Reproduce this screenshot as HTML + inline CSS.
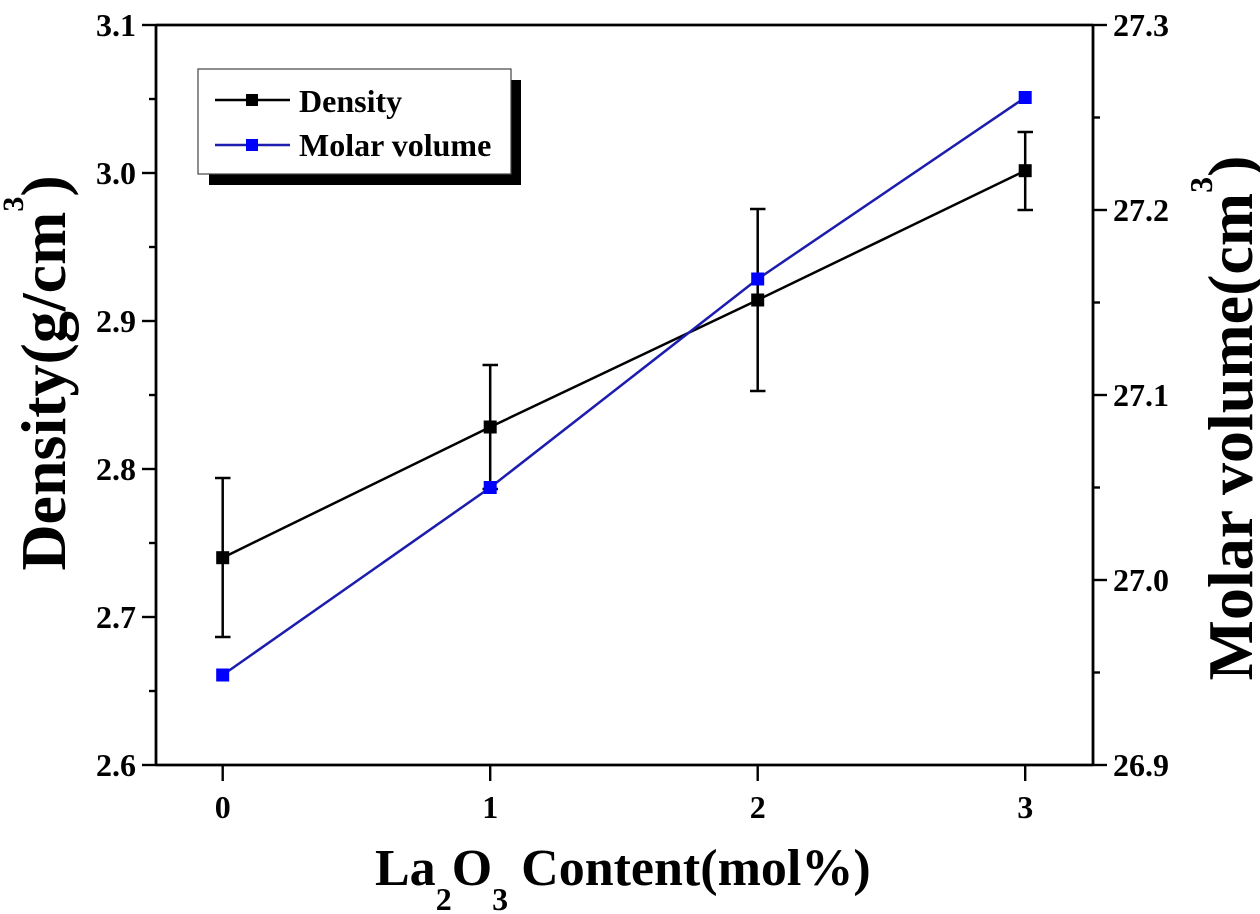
<!DOCTYPE html>
<html>
<head>
<meta charset="utf-8">
<style>
  html, body { margin:0; padding:0; background:#ffffff; }
  svg { display:block; }
  text { font-family: "Liberation Serif", "Times New Roman", serif; font-weight: bold; fill:#000; }
</style>
</head>
<body>
<svg width="1260" height="914" viewBox="0 0 1260 914" xmlns="http://www.w3.org/2000/svg">
  <rect x="0" y="0" width="1260" height="914" fill="#ffffff"/>

  <!-- Axes frame -->
  <g stroke="#000" stroke-width="2.8" fill="none">
    <line x1="156" y1="25" x2="1093" y2="25"/>
    <line x1="156" y1="765" x2="1093" y2="765"/>
    <line x1="156" y1="24" x2="156" y2="766"/>
    <line x1="1093" y1="24" x2="1093" y2="766"/>
  </g>

  <!-- Left ticks -->
  <g stroke="#000" stroke-width="2.4">
    <line x1="142" y1="25" x2="156" y2="25"/>
    <line x1="142" y1="173" x2="156" y2="173"/>
    <line x1="142" y1="321" x2="156" y2="321"/>
    <line x1="142" y1="469" x2="156" y2="469"/>
    <line x1="142" y1="617" x2="156" y2="617"/>
    <line x1="142" y1="765" x2="156" y2="765"/>
    <line x1="149" y1="99" x2="156" y2="99"/>
    <line x1="149" y1="247" x2="156" y2="247"/>
    <line x1="149" y1="395" x2="156" y2="395"/>
    <line x1="149" y1="543" x2="156" y2="543"/>
    <line x1="149" y1="691" x2="156" y2="691"/>
  </g>

  <!-- Right ticks -->
  <g stroke="#000" stroke-width="2.4">
    <line x1="1093" y1="25" x2="1107" y2="25"/>
    <line x1="1093" y1="210" x2="1107" y2="210"/>
    <line x1="1093" y1="395" x2="1107" y2="395"/>
    <line x1="1093" y1="580" x2="1107" y2="580"/>
    <line x1="1093" y1="765" x2="1107" y2="765"/>
    <line x1="1093" y1="117.5" x2="1100" y2="117.5"/>
    <line x1="1093" y1="302.5" x2="1100" y2="302.5"/>
    <line x1="1093" y1="487.5" x2="1100" y2="487.5"/>
    <line x1="1093" y1="672.5" x2="1100" y2="672.5"/>
  </g>

  <!-- Bottom ticks -->
  <g stroke="#000" stroke-width="2.4">
    <line x1="222.7" y1="765" x2="222.7" y2="781"/>
    <line x1="490.2" y1="765" x2="490.2" y2="781"/>
    <line x1="757.7" y1="765" x2="757.7" y2="781"/>
    <line x1="1025.2" y1="765" x2="1025.2" y2="781"/>
  </g>

  <!-- Left tick labels -->
  <g font-size="32" text-anchor="end">
    <text x="136" y="36">3.1</text>
    <text x="136" y="184">3.0</text>
    <text x="136" y="332">2.9</text>
    <text x="136" y="480">2.8</text>
    <text x="136" y="628">2.7</text>
    <text x="136" y="776">2.6</text>
  </g>

  <!-- Right tick labels -->
  <g font-size="32" text-anchor="start">
    <text x="1113" y="36">27.3</text>
    <text x="1113" y="221">27.2</text>
    <text x="1113" y="406">27.1</text>
    <text x="1113" y="591">27.0</text>
    <text x="1113" y="776">26.9</text>
  </g>

  <!-- Bottom tick labels -->
  <g font-size="32" text-anchor="middle">
    <text x="222.7" y="818">0</text>
    <text x="490.2" y="818">1</text>
    <text x="757.7" y="818">2</text>
    <text x="1025.2" y="818">3</text>
  </g>

  <!-- Axis titles -->
  <text x="375" y="885" font-size="52">La<tspan font-size="32" dy="25">2</tspan><tspan dy="-25">O</tspan><tspan font-size="32" dy="25">3</tspan><tspan dy="-25"> Content(mol%)</tspan></text>

  <text transform="translate(65,373) rotate(-90)" text-anchor="middle" font-size="64">Density(g/cm<tspan font-size="30" dy="-42">3</tspan><tspan dy="42">)</tspan></text>

  <text transform="translate(1252,418) rotate(-90)" text-anchor="middle" font-size="64">Molar volume(cm<tspan font-size="32" dy="-40">3</tspan><tspan dy="40">)</tspan></text>

  <!-- Density series -->
  <polyline points="222.7,557.7 490.2,427 757.7,300 1025.2,170.7" fill="none" stroke="#000" stroke-width="2.5"/>
  <g stroke="#000" stroke-width="2.5">
    <line x1="222.7" y1="478" x2="222.7" y2="637"/>
    <line x1="215" y1="478" x2="230.5" y2="478"/>
    <line x1="215" y1="637" x2="230.5" y2="637"/>

    <line x1="490.2" y1="365" x2="490.2" y2="489"/>
    <line x1="482.5" y1="365" x2="498" y2="365"/>
    <line x1="482.5" y1="489" x2="498" y2="489"/>

    <line x1="757.7" y1="209" x2="757.7" y2="391"/>
    <line x1="750" y1="209" x2="765.5" y2="209"/>
    <line x1="750" y1="391" x2="765.5" y2="391"/>

    <line x1="1025.2" y1="132" x2="1025.2" y2="210"/>
    <line x1="1017.5" y1="132" x2="1033" y2="132"/>
    <line x1="1017.5" y1="210" x2="1033" y2="210"/>
  </g>
  <g fill="#000">
    <rect x="216.2" y="551.2" width="13" height="13"/>
    <rect x="483.7" y="420.5" width="13" height="13"/>
    <rect x="751.2" y="293.5" width="13" height="13"/>
    <rect x="1018.7" y="164.2" width="13" height="13"/>
  </g>

  <!-- Molar volume series -->
  <polyline points="222.7,675 490.2,487.5 757.7,279 1025.2,97.5" fill="none" stroke="#1c1cae" stroke-width="2.5"/>
  <g fill="#0000ff">
    <rect x="216.2" y="668.5" width="13" height="13"/>
    <rect x="483.7" y="481" width="13" height="13"/>
    <rect x="751.2" y="272.5" width="13" height="13"/>
    <rect x="1018.7" y="91" width="13" height="13"/>
  </g>

  <!-- Legend -->
  <rect x="209" y="80" width="312" height="105" fill="#000"/>
  <rect x="198" y="69" width="313" height="105" fill="#ffffff" stroke="#444" stroke-width="1.2"/>
  <line x1="215" y1="100" x2="290" y2="100" stroke="#000" stroke-width="2.4"/>
  <rect x="246" y="94" width="12" height="12" fill="#000"/>
  <text x="299" y="112" font-size="32">Density</text>
  <line x1="215" y1="145" x2="290" y2="145" stroke="#1c1cae" stroke-width="2.4"/>
  <rect x="246" y="139" width="12" height="12" fill="#0000ff"/>
  <text x="299" y="156" font-size="32">Molar volume</text>
</svg>
</body>
</html>
